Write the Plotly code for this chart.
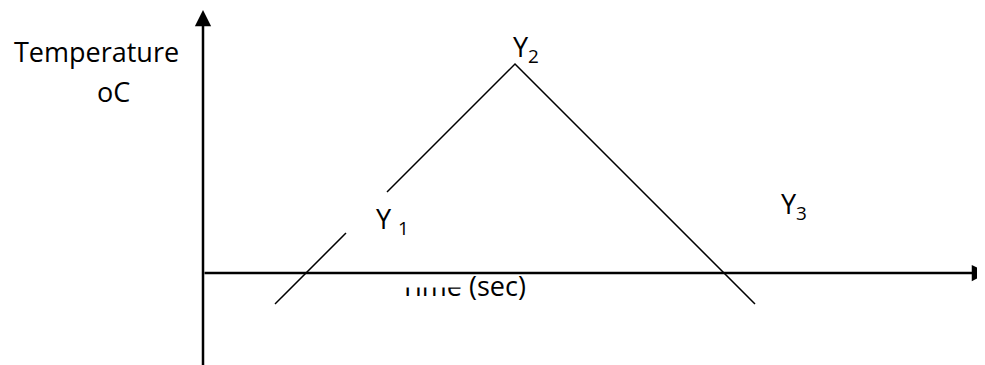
import plotly.graph_objects as go

# schematic temperature vs time (origin at the axes crossing)
seg_time = [72, 143, None, 184, 312, 552]
seg_temp = [-31, 40, None, 81, 209, -31]

point_labels = ["Y <sub>1</sub>", "Y<sub>2</sub>", "Y<sub>3</sub>"]
label_time = [171, 308, 576]
label_temp = [53, 224.5, 68]

y_title = ["Temperature", "oC"]
x_title = "Time (sec)"

FONT = dict(family="Open Sans", size=27, color="black")

fig = go.Figure()

fig.add_trace(go.Scatter(x=seg_time, y=seg_temp, mode="lines",
                         line=dict(color="black", width=1.5),
                         connectgaps=False, hoverinfo="skip"))

# x axis label, its top is hidden behind a white strip
fig.add_trace(go.Scatter(x=[260], y=[-16.5], mode="text", text=[x_title],
                         textposition="middle center", textfont=FONT,
                         hoverinfo="skip"))

fig.add_shape(type="rect", x0=192, x1=259, y0=-1.6, y1=-14.5,
              fillcolor="white", line=dict(width=0), layer="above")

# axes with arrows (page has an 8px body margin, ranges account for it)
fig.add_annotation(x=0, y=263, xref="x", yref="y", ax=0, ay=360,
                   text="", showarrow=True, arrowhead=2, arrowsize=1.3,
                   arrowwidth=2.5, arrowcolor="black")
fig.add_annotation(x=980 / 985, y=0, xref="paper", yref="y", ax=-785, ay=0,
                   text="", showarrow=True, arrowhead=2, arrowsize=1.3,
                   arrowwidth=2.5, arrowcolor="black")

for t, x, y in zip(point_labels, label_time, label_temp):
    fig.add_annotation(x=x, y=y, text=t, showarrow=False, xanchor="left",
                       font=FONT)

fig.add_annotation(x=-107, y=221.5, text=y_title[0], showarrow=False, font=FONT)
fig.add_annotation(x=-90, y=181.5, text=y_title[1], showarrow=False, font=FONT)

fig.update_xaxes(range=[-195, 790], visible=False)
fig.update_yaxes(range=[-100, 265], visible=False)
fig.update_layout(width=985, height=365, margin=dict(l=0, r=0, t=0, b=0),
                  plot_bgcolor="white", paper_bgcolor="white",
                  showlegend=False)

fig.write_html("out.html")
